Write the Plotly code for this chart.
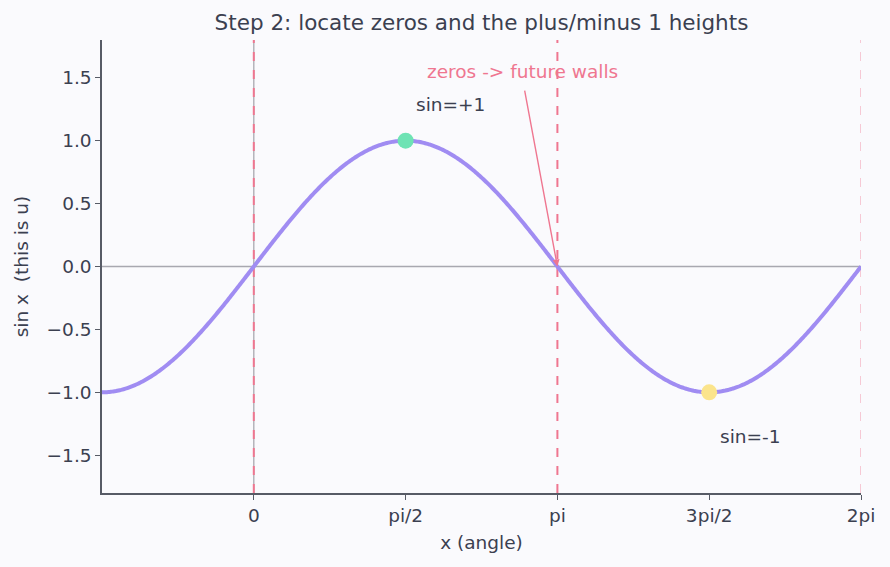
import numpy as np
import plotly.graph_objects as go

# data
curve_x = np.linspace(-np.pi / 2, 2 * np.pi, 600)
curve_y = np.sin(curve_x)
peak_x, peak_y = [np.pi / 2], [1.0]
trough_x, trough_y = [3 * np.pi / 2], [-1.0]
zeros_bold = [0.0, np.pi]
zeros_thin = [2 * np.pi]
xtick_vals = [0, np.pi / 2, np.pi, 3 * np.pi / 2, 2 * np.pi]
xtick_text = ["0", "pi/2", "pi", "3pi/2", "2pi"]
ytick_vals = [-1.5, -1.0, -0.5, 0.0, 0.5, 1.0, 1.5]
ytick_text = ["\u22121.5", "\u22121.0", "\u22120.5", "0.0", "0.5", "1.0", "1.5"]

TXT = "#3b4050"
PINK = "#ef7690"
BG = "#fafafd"
FS = 18.5

fig = go.Figure()
fig.add_trace(go.Scatter(x=curve_x, y=curve_y, mode="lines",
                         line=dict(color="#a08cf2", width=4, simplify=False), hoverinfo="skip"))
fig.add_trace(go.Scatter(x=peak_x, y=peak_y, mode="markers",
                         marker=dict(color="#6ee3b4", size=16), hoverinfo="skip"))
fig.add_trace(go.Scatter(x=trough_x, y=trough_y, mode="markers",
                         marker=dict(color="#fbe48c", size=16), hoverinfo="skip"))

shapes = []
shapes.append(dict(type="line", xref="paper", yref="y", x0=0, x1=1, y0=0, y1=0,
                   line=dict(color="#a8a8b0", width=1.3), layer="below"))
shapes.append(dict(type="line", xref="x", yref="paper", x0=0, x1=0, y0=0, y1=1,
                   line=dict(color="#a8a8b0", width=1.3), layer="below"))
for z in zeros_bold:
    shapes.append(dict(type="line", xref="x", yref="paper", x0=z, x1=z, y0=0, y1=1,
                       line=dict(color=PINK, width=2, dash="dash"), layer="below"))
for z in zeros_thin:
    shapes.append(dict(type="line", xref="x", yref="paper", x0=z, x1=z, y0=0, y1=1,
                       line=dict(color="rgba(239,118,144,0.75)", width=1, dash="dash"), layer="below"))

annotations = [
    dict(x=np.pi / 2 + 0.09, y=1.29, xref="x", yref="y", text="sin=+1", showarrow=False,
         xanchor="left", yanchor="middle", font=dict(color=TXT, size=FS)),
    dict(x=3 * np.pi / 2 + 0.09, y=-1.35, xref="x", yref="y", text="sin=-1", showarrow=False,
         xanchor="left", yanchor="middle", font=dict(color=TXT, size=FS)),
    dict(x=2.78, y=1.55, xref="x", yref="y", text="zeros -> future walls", showarrow=False,
         xanchor="center", yanchor="middle", font=dict(color=PINK, size=FS)),
    dict(x=np.pi, y=0, xref="x", yref="y", ax=2.8, ay=1.41, axref="x", ayref="y",
         text="", showarrow=True, arrowhead=2, arrowsize=1, arrowwidth=1.4,
         arrowcolor=PINK, standoff=0),
]

fig.update_layout(
    width=890, height=567,
    paper_bgcolor=BG, plot_bgcolor=BG,
    margin=dict(l=102, r=29, t=40, b=74),
    showlegend=False,
    font=dict(family="DejaVu Sans", color=TXT, size=FS),
    title=dict(text="Step 2: locate zeros and the plus/minus 1 heights", x=0.5, xref="paper",
               xanchor="center", y=1 - 22 / 567, yanchor="middle",
               font=dict(size=21.5, color=TXT)),
    shapes=shapes, annotations=annotations,
)
fig.update_xaxes(range=[-np.pi / 2, 2 * np.pi], tickvals=xtick_vals, ticktext=xtick_text,
                 showgrid=False, zeroline=False, showline=True, linecolor="#575b66", linewidth=1.5,
                 ticks="outside", ticklen=5, tickwidth=1.3, tickcolor="#575b66",
                 title=dict(text="x (angle)", standoff=11, font=dict(size=FS)),
                 tickfont=dict(size=FS))
fig.update_yaxes(range=[-1.8, 1.8], tickvals=ytick_vals, ticktext=ytick_text,
                 showgrid=False, zeroline=False, showline=True, linecolor="#575b66", linewidth=1.5,
                 ticks="outside", ticklen=5, tickwidth=1.3, tickcolor="#575b66",
                 title=dict(text="sin x  (this is u)", standoff=13, font=dict(size=FS)),
                 tickfont=dict(size=FS))

fig.write_html("out.html")
